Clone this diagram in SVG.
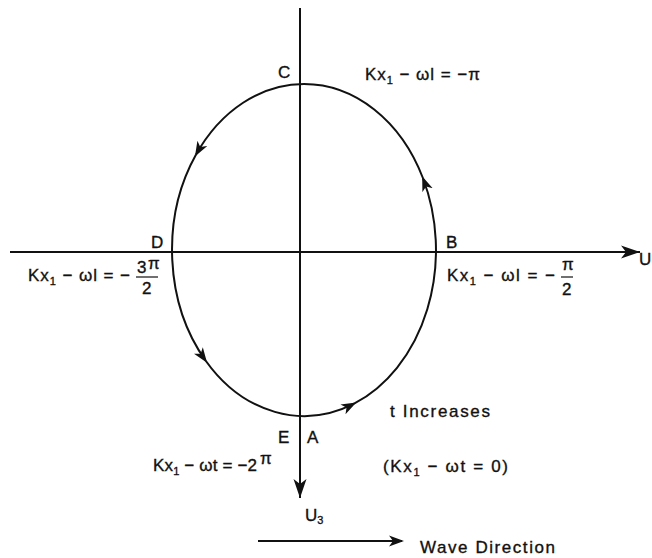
<svg xmlns="http://www.w3.org/2000/svg" width="652" height="558" viewBox="0 0 652 558">
<style>
.t{font-family:"Liberation Sans",Arial,sans-serif;font-size:17px;fill:#111;stroke:#111;stroke-width:0.35;}
.ln{stroke:#111;stroke-width:2;fill:none;}
</style>
<defs>
<marker id="ah" markerUnits="userSpaceOnUse" markerWidth="16" markerHeight="12" viewBox="0 0 16 12" refX="13" refY="6" orient="auto">
<path d="M0,0.5 L15,6 L0,11.5 L4,6 Z" fill="#111"/>
</marker>
<marker id="axh" markerUnits="userSpaceOnUse" markerWidth="20" markerHeight="14" viewBox="0 0 20 14" refX="19" refY="7" orient="auto">
<path d="M0,0.5 L19,7 L0,13.5 L5,7 Z" fill="#111"/>
</marker>
</defs>
<g id="connectors">
<line class="ln" x1="10" y1="252" x2="640" y2="252" marker-end="url(#axh)"/>
<line class="ln" x1="300" y1="8" x2="300" y2="498" marker-end="url(#axh)"/>
<path class="ln" d="M304,84 A132,166 0 0 0 195.9,154.8" marker-end="url(#ah)"/>
<path class="ln" d="M195.9,154.8 A132,166 0 0 0 205.9,361" marker-end="url(#ah)"/>
<path class="ln" d="M205.9,361 A132,166 0 0 0 354.5,403.4" marker-end="url(#ah)"/>
<path class="ln" d="M354.5,403.4 A132,166 0 0 0 422.9,178" marker-end="url(#ah)"/>
<path class="ln" d="M422.9,178 A132,166 0 0 0 304,84"/>
<line class="ln" x1="258" y1="541" x2="402" y2="541" stroke-width="1.5" marker-end="url(#ah)"/>
</g>
<g id="C"><text class="t" x="278" y="78">C</text>
<text class="t" x="365" y="80" textLength="115" lengthAdjust="spacing">Kx<tspan font-size="11" dy="4">1</tspan><tspan dy="-4"> − ωl = −π</tspan></text></g>
<g id="D"><text class="t" x="151" y="248">D</text>
<text class="t" x="28" y="281" textLength="102" lengthAdjust="spacing">Kx<tspan font-size="11" dy="4">1</tspan><tspan dy="-4"> − ωl = −</tspan></text>
<text class="t" x="137" y="273">3</text><text class="t" x="148" y="269" font-size="13">π</text>
<line x1="136" y1="277" x2="158" y2="277" stroke="#111" stroke-width="1.2"/>
<text class="t" x="142" y="294">2</text></g>
<g id="B"><text class="t" x="446" y="248">B</text>
<text class="t" x="447" y="281" textLength="108" lengthAdjust="spacing">Kx<tspan font-size="11" dy="4">1</tspan><tspan dy="-4"> − ωl = −</tspan></text>
<text class="t" x="562" y="270" font-size="14">π</text>
<line x1="561" y1="277" x2="573" y2="277" stroke="#111" stroke-width="1.2"/>
<text class="t" x="562" y="295">2</text>
<text class="t" x="639" y="265">U</text></g>
<g id="EA"><text class="t" x="278" y="443">E</text>
<text class="t" x="307" y="443">A</text>
<text class="t" x="153" y="471" textLength="104" lengthAdjust="spacing">Kx<tspan font-size="11" dy="4">1</tspan><tspan dy="-4"> − ωt = −2</tspan></text>
<text class="t" x="260" y="464" font-size="12">π</text>
<text class="t" x="390" y="417" textLength="100" lengthAdjust="spacing">t  Increases</text>
<text class="t" x="383" y="472" textLength="125" lengthAdjust="spacing">(Kx<tspan font-size="11" dy="4">1</tspan><tspan dy="-4"> − ωt = 0)</tspan></text></g>
<g id="U3"><text class="t" x="305" y="521">U<tspan font-size="11" dy="3">3</tspan></text></g>
<g id="wave"><text class="t" x="420" y="553" textLength="135" lengthAdjust="spacing">Wave  Direction</text></g>
</svg>
